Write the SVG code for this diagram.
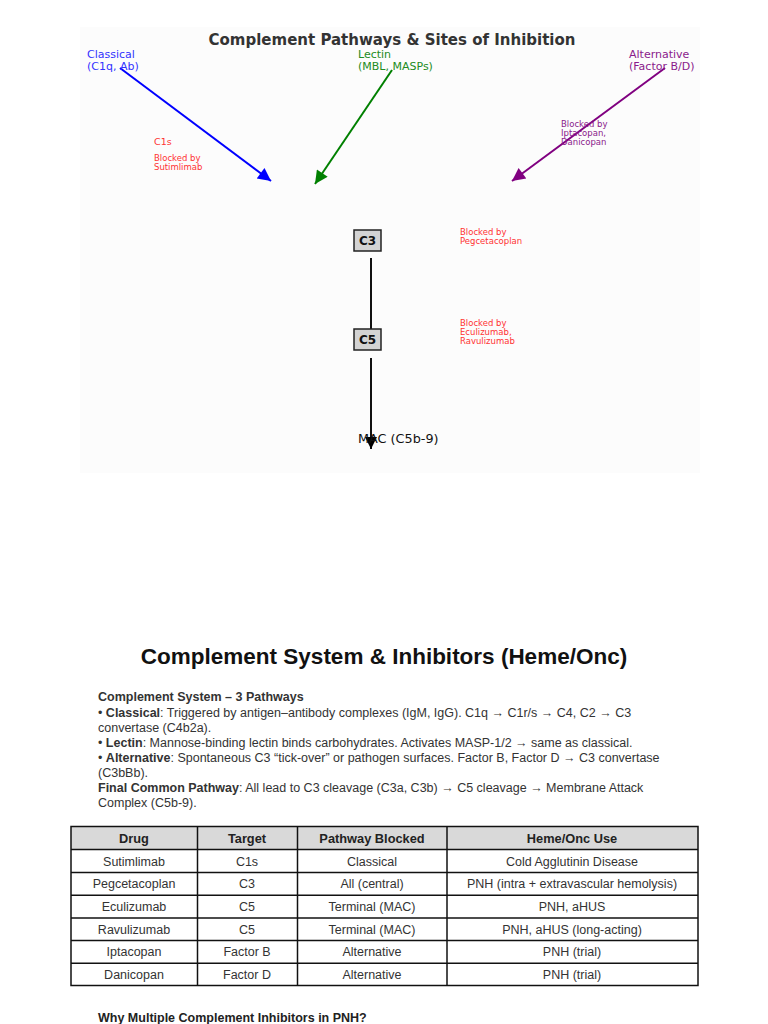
<svg xmlns="http://www.w3.org/2000/svg" width="768" height="1024" viewBox="0 0 768 1024">
<defs>
<style>
.dv{font-family:"DejaVu Sans",sans-serif}
.ls{font-family:"Liberation Sans",Arial,sans-serif}
.title1{font-size:15px;font-weight:bold;fill:#333}
.plab{font-size:11px}
.red{fill:#ff3333}
.small{font-size:8.5px}
.box{fill:#d3d3d3;stroke:#222;stroke-width:1.5}
.boxt{font-size:12px;font-weight:bold;fill:#111}
.body{font-size:12.5px;fill:#333}
.cell{font-size:12.5px;fill:#333;text-anchor:middle}
.hdr{font-size:12.8px;font-weight:bold;fill:#222;text-anchor:middle}
.grid{stroke:#111;stroke-width:1.5;fill:none}
</style>
<marker id="ab" viewBox="0 0 10 10" refX="10" refY="5" markerWidth="17" markerHeight="13" markerUnits="userSpaceOnUse" orient="auto"><path d="M0,0L10,5L0,10z" fill="#0000ff"/></marker>
<marker id="ag" viewBox="0 0 10 10" refX="10" refY="5" markerWidth="17" markerHeight="13" markerUnits="userSpaceOnUse" orient="auto"><path d="M0,0L10,5L0,10z" fill="#008000"/></marker>
<marker id="ap" viewBox="0 0 10 10" refX="10" refY="5" markerWidth="17" markerHeight="13" markerUnits="userSpaceOnUse" orient="auto"><path d="M0,0L10,5L0,10z" fill="#800080"/></marker>
<marker id="ak" viewBox="0 0 10 10" refX="10" refY="5" markerWidth="15" markerHeight="12" markerUnits="userSpaceOnUse" orient="auto"><path d="M0,0L10,5L0,10z" fill="#000"/></marker>
</defs>
<rect width="768" height="1024" fill="#fff"/>
<rect x="80" y="27" width="620" height="446" fill="#fcfcfc"/>
<text class="dv title1" x="392" y="45" text-anchor="middle">Complement Pathways &amp; Sites of Inhibition</text>

<g id="connectors" stroke-width="2" fill="none">
<line x1="120" y1="68" x2="271" y2="181" stroke="#0000ff" marker-end="url(#ab)"/>
<line x1="392" y1="70" x2="315" y2="184" stroke="#008000" marker-end="url(#ag)"/>
<line x1="665" y1="68" x2="512" y2="181" stroke="#800080" marker-end="url(#ap)"/>
<line x1="371" y1="258" x2="371" y2="330" stroke="#111"/>
<line x1="371" y1="358" x2="371" y2="449" stroke="#111" marker-end="url(#ak)"/>
</g>

<g id="classical"><text class="dv plab" fill="#3333ff" x="87" y="58">Classical</text><text class="dv plab" fill="#3333ff" x="87" y="70">(C1q, Ab)</text></g>
<g id="lectin"><text class="dv plab" fill="#228b22" x="358" y="58">Lectin</text><text class="dv plab" fill="#228b22" x="358" y="70">(MBL, MASPs)</text></g>
<g id="alternative"><text class="dv plab" fill="#8b1a8b" x="629" y="58">Alternative</text><text class="dv plab" fill="#8b1a8b" x="629" y="70">(Factor B/D)</text></g>

<g id="c1s-label"><text class="dv red" font-size="9.5" x="154" y="145">C1s</text>
<text class="dv red small" x="154" y="161">Blocked by</text><text class="dv red small" x="154" y="170">Sutimlimab</text></g>
<g id="alt-block"><text class="dv small" fill="#8b1a8b" x="561" y="127">Blocked by</text><text class="dv small" fill="#8b1a8b" x="561" y="136">Iptacopan,</text><text class="dv small" fill="#8b1a8b" x="561" y="145">Danicopan</text></g>

<g id="c3"><rect class="box" x="354" y="230" width="27" height="21"/><text class="dv boxt" x="367.5" y="245" text-anchor="middle">C3</text></g>
<g id="c3-block"><text class="dv red small" x="460" y="235">Blocked by</text><text class="dv red small" x="460" y="244">Pegcetacoplan</text></g>
<g id="c5"><rect class="box" x="354" y="329" width="27" height="21"/><text class="dv boxt" x="367.5" y="344" text-anchor="middle">C5</text></g>
<g id="c5-block"><text class="dv red small" x="460" y="326">Blocked by</text><text class="dv red small" x="460" y="335">Eculizumab,</text><text class="dv red small" x="460" y="344">Ravulizumab</text></g>
<g id="mac"><text class="dv" font-size="12.8" fill="#111" x="358" y="443">MAC (C5b-9)</text></g>

<text class="ls" font-size="22.5" font-weight="bold" fill="#111" x="384" y="664" text-anchor="middle">Complement System &amp; Inhibitors (Heme/Onc)</text>

<g class="ls body">
<text x="98" y="701" font-weight="bold">Complement System – 3 Pathways</text>
<text x="98" y="717">• <tspan font-weight="bold">Classical</tspan>: Triggered by antigen–antibody complexes (IgM, IgG). C1q → C1r/s → C4, C2 → C3</text>
<text x="98" y="732">convertase (C4b2a).</text>
<text x="98" y="747">• <tspan font-weight="bold">Lectin</tspan>: Mannose-binding lectin binds carbohydrates. Activates MASP-1/2 → same as classical.</text>
<text x="98" y="762">• <tspan font-weight="bold">Alternative</tspan>: Spontaneous C3 “tick-over” or pathogen surfaces. Factor B, Factor D → C3 convertase</text>
<text x="98" y="777">(C3bBb).</text>
<text x="98" y="792"><tspan font-weight="bold">Final Common Pathway</tspan>: All lead to C3 cleavage (C3a, C3b) → C5 cleavage → Membrane Attack</text>
<text x="98" y="807">Complex (C5b-9).</text>
</g>

<g id="table" class="ls">
<rect x="71" y="826.5" width="627" height="23" fill="#d9d9d9"/>
<rect class="grid" x="71" y="826.5" width="627" height="159"/>
<g class="grid">
<line x1="71" y1="849.5" x2="698" y2="849.5"/>
<line x1="71" y1="872.5" x2="698" y2="872.5"/>
<line x1="71" y1="895.2" x2="698" y2="895.2"/>
<line x1="71" y1="917.9" x2="698" y2="917.9"/>
<line x1="71" y1="940.6" x2="698" y2="940.6"/>
<line x1="71" y1="963.3" x2="698" y2="963.3"/>
<line x1="197.5" y1="826.5" x2="197.5" y2="985.5"/>
<line x1="297.5" y1="826.5" x2="297.5" y2="985.5"/>
<line x1="447" y1="826.5" x2="447" y2="985.5"/>
</g>
<text class="hdr" x="134" y="842.5">Drug</text><text class="hdr" x="247" y="842.5">Target</text><text class="hdr" x="372" y="842.5">Pathway Blocked</text><text class="hdr" x="572" y="842.5">Heme/Onc Use</text>
<text class="cell" x="134" y="865.5">Sutimlimab</text><text class="cell" x="247" y="865.5">C1s</text><text class="cell" x="372" y="865.5">Classical</text><text class="cell" x="572" y="865.5">Cold Agglutinin Disease</text>
<text class="cell" x="134" y="888">Pegcetacoplan</text><text class="cell" x="247" y="888">C3</text><text class="cell" x="372" y="888">All (central)</text><text class="cell" x="572" y="888">PNH (intra + extravascular hemolysis)</text>
<text class="cell" x="134" y="911">Eculizumab</text><text class="cell" x="247" y="911">C5</text><text class="cell" x="372" y="911">Terminal (MAC)</text><text class="cell" x="572" y="911">PNH, aHUS</text>
<text class="cell" x="134" y="933.5">Ravulizumab</text><text class="cell" x="247" y="933.5">C5</text><text class="cell" x="372" y="933.5">Terminal (MAC)</text><text class="cell" x="572" y="933.5">PNH, aHUS (long-acting)</text>
<text class="cell" x="134" y="956">Iptacopan</text><text class="cell" x="247" y="956">Factor B</text><text class="cell" x="372" y="956">Alternative</text><text class="cell" x="572" y="956">PNH (trial)</text>
<text class="cell" x="134" y="979">Danicopan</text><text class="cell" x="247" y="979">Factor D</text><text class="cell" x="372" y="979">Alternative</text><text class="cell" x="572" y="979">PNH (trial)</text>
</g>

<text class="ls" font-size="12.5" font-weight="bold" fill="#222" x="98" y="1022">Why Multiple Complement Inhibitors in PNH?</text>
</svg>
